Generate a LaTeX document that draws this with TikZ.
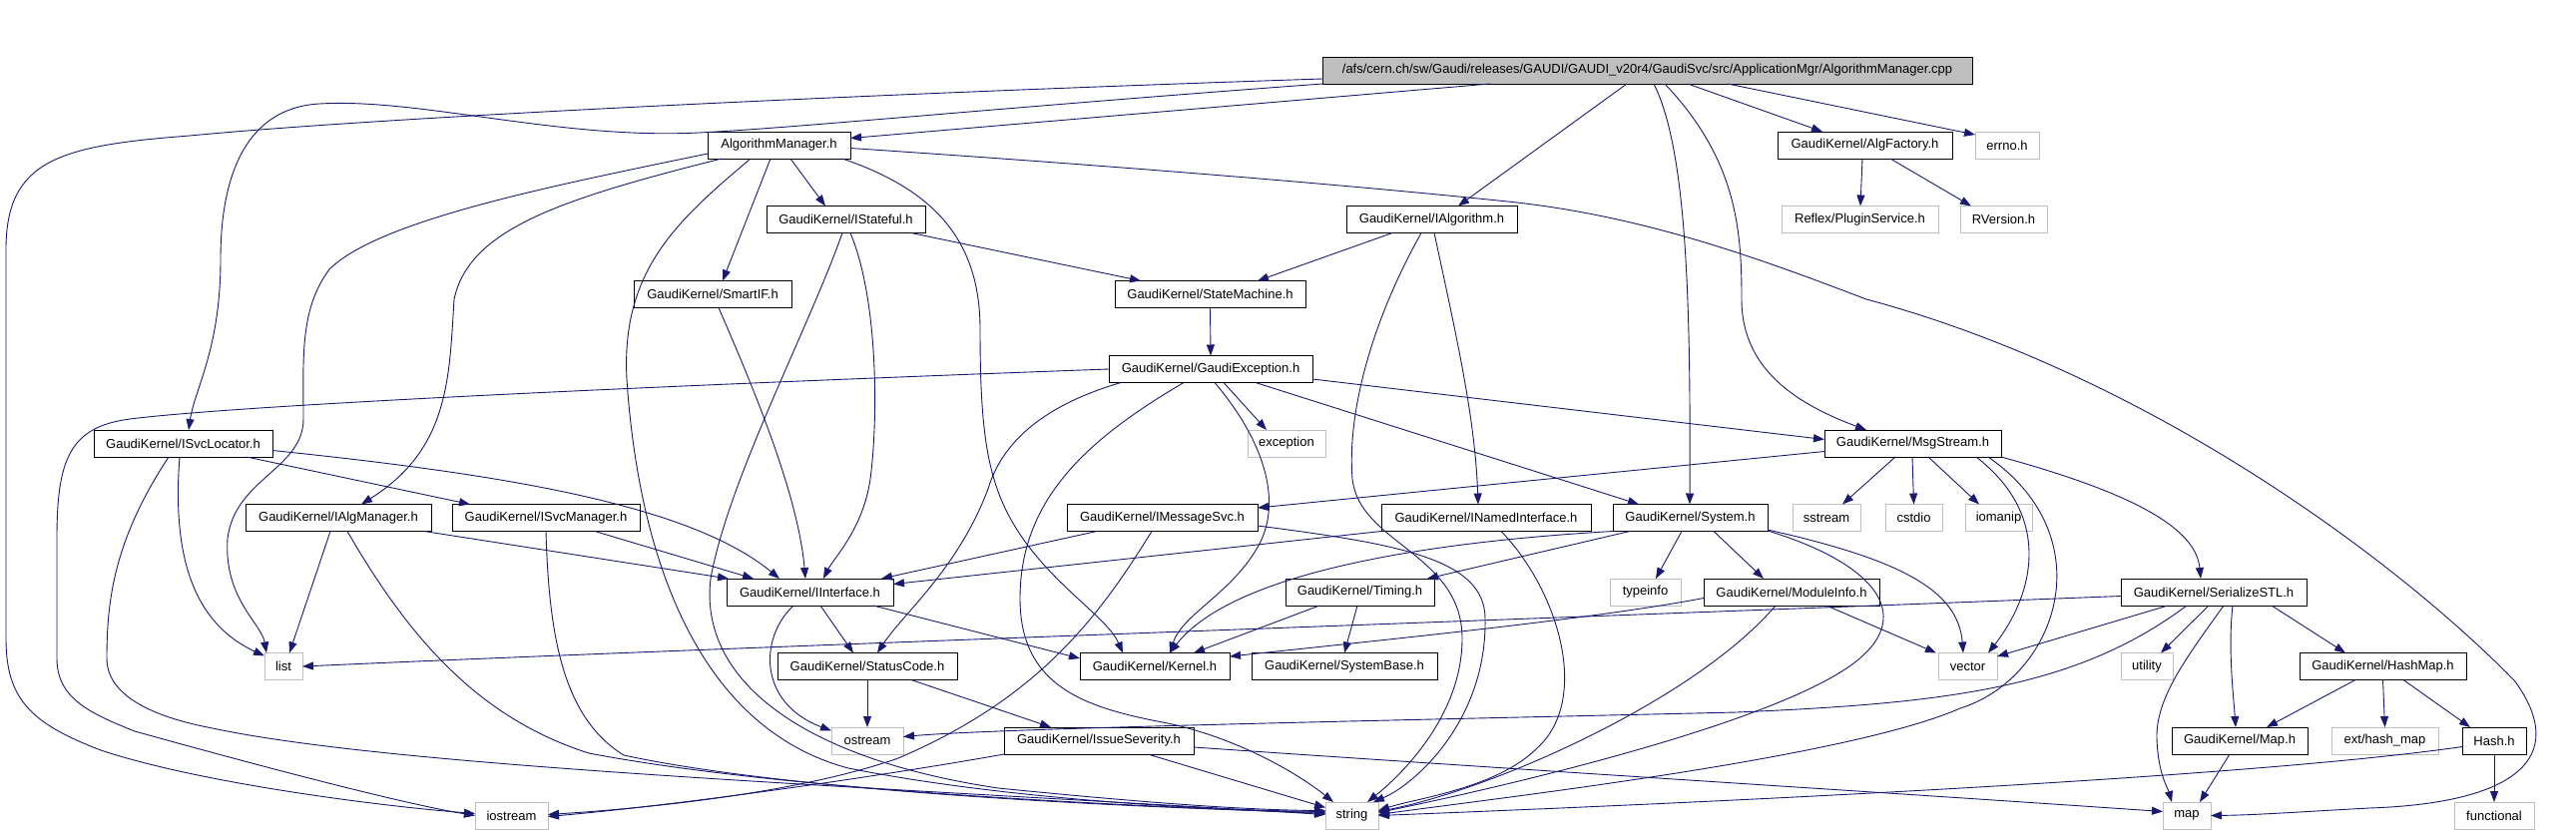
\documentclass[tikz,border=0pt]{standalone}
\usepackage{fontspec}
\setmainfont{Liberation Sans}
\usetikzlibrary{arrows.meta}
\definecolor{edgeblue}{HTML}{191970}
\definecolor{boxgray}{HTML}{BFBFBF}
\begin{document}
\begin{tikzpicture}[x=1pt,y=-1pt,
every node/.style={rectangle,draw,minimum height=27pt,inner sep=0pt,outer sep=0pt,line width=0.9pt,font=\fontsize{13}{15}\selectfont},
sys/.style={draw=boxgray},
mainfile/.style={fill=boxgray},
dep/.style={draw=edgeblue,line width=0.9pt,-{Triangle[length=11pt,width=8pt]}}]
\useasboundingbox (0,0) rectangle (2581,836);
\node[mainfile,minimum width=651pt] (cpp) at (1650.5,70.5) {/afs/cern.ch/sw/Gaudi/releases/GAUDI/GAUDI\_v20r4/GaudiSvc/src/ApplicationMgr/AlgorithmManager.cpp};
\node[minimum width=143pt] (AM) at (780.5,145.5) {AlgorithmManager.h};
\node[minimum width=175pt] (AF) at (1868.5,145.5) {GaudiKernel/AlgFactory.h};
\node[sys,minimum width=64pt] (ER) at (2011,145.5) {errno.h};
\node[minimum width=159pt] (IS) at (847.5,220) {GaudiKernel/IStateful.h};
\node[minimum width=171pt] (IA) at (1434.5,220) {GaudiKernel/IAlgorithm.h};
\node[sys,minimum width=157pt] (PS) at (1863.5,220) {Reflex/PluginService.h};
\node[sys,minimum width=87pt] (RV) at (2007.5,220) {RVersion.h};
\node[minimum width=158pt] (SI) at (714,295) {GaudiKernel/SmartIF.h};
\node[minimum width=191pt] (SM) at (1212.5,295) {GaudiKernel/StateMachine.h};
\node[minimum width=204pt] (GE) at (1213,370) {GaudiKernel/GaudiException.h};
\node[minimum width=179pt] (SL) at (183.5,444.5) {GaudiKernel/ISvcLocator.h};
\node[sys,minimum width=78pt] (EX) at (1289,444.5) {exception};
\node[minimum width=177pt] (MG) at (1916.5,444.5) {GaudiKernel/MsgStream.h};
\node[minimum width=186pt] (IM) at (339,519) {GaudiKernel/IAlgManager.h};
\node[minimum width=188pt] (SV) at (547,519) {GaudiKernel/ISvcManager.h};
\node[minimum width=191pt] (MS) at (1164.5,519) {GaudiKernel/IMessageSvc.h};
\node[minimum width=210pt] (NI) at (1489,519) {GaudiKernel/INamedInterface.h};
\node[minimum width=155pt] (SY) at (1693.5,519) {GaudiKernel/System.h};
\node[sys,minimum width=68pt] (SS) at (1830,519) {sstream};
\node[sys,minimum width=57pt] (CS) at (1917.5,519) {cstdio};
\node[sys,minimum width=67pt] (IO) at (2002.5,519) {iomanip};
\node[minimum width=167pt] (II) at (811.5,593.5) {GaudiKernel/IInterface.h};
\node[minimum width=149pt] (TI) at (1362.5,593.5) {GaudiKernel/Timing.h};
\node[sys,minimum width=71pt] (TY) at (1648.5,593.5) {typeinfo};
\node[minimum width=176pt] (MI) at (1795,593.5) {GaudiKernel/ModuleInfo.h};
\node[minimum width=186pt] (SE) at (2218,593.5) {GaudiKernel/SerializeSTL.h};
\node[sys,minimum width=38pt] (LI) at (284,668) {list};
\node[minimum width=180pt] (SC) at (869,668) {GaudiKernel/StatusCode.h};
\node[minimum width=150pt] (KE) at (1157,668) {GaudiKernel/Kernel.h};
\node[minimum width=186pt] (SB) at (1347,668) {GaudiKernel/SystemBase.h};
\node[sys,minimum width=59pt] (VE) at (1971.5,668) {vector};
\node[sys,minimum width=52pt] (UT) at (2151,668) {utility};
\node[minimum width=167pt] (HM) at (2387.5,668) {GaudiKernel/HashMap.h};
\node[sys,minimum width=72pt] (OS) at (869,742.5) {ostream};
\node[minimum width=190pt] (IV) at (1101,742.5) {GaudiKernel/IssueSeverity.h};
\node[minimum width=136pt] (MP) at (2244,742.5) {GaudiKernel/Map.h};
\node[sys,minimum width=107pt] (EH) at (2389.5,742.5) {ext/hash\_map};
\node[minimum width=64pt] (HA) at (2499,742.5) {Hash.h};
\node[sys,minimum width=73pt] (IOS) at (512.5,817.5) {iostream};
\node[sys,minimum width=53pt] (ST) at (1354.5,817.5) {string};
\node[sys,minimum width=48pt] (MA) at (2191,817.5) {map};
\node[sys,minimum width=80pt] (FU) at (2499,817.5) {functional};
\draw[dep] ([xshift=168pt]cpp.south west) -- ([yshift=7pt]AM.east);
\draw[dep] (cpp.south west) .. controls (1000,108) and (800,128) .. (700,133) .. controls (560,140) and (420,98) .. (320,104) .. controls (250,108) and (221,170) .. (221,260) .. controls (221,350) and (195,390) .. ([xshift=5.5pt]SL.north);
\draw[dep] ([yshift=-8.5pt]cpp.west) .. controls (900,93) and (400,116) .. (190,136) .. controls (60,146) and (6,160) .. (6,250) -- (6,640) .. controls (6,700) and (30,725) .. (101,752) .. controls (200,785) and (380,808) .. ([yshift=2pt]IOS.west);
\draw[dep] ([xshift=366pt]cpp.south west) -- ([xshift=45pt]AF.north west);
\draw[dep] ([xshift=406pt]cpp.south west) -- ([yshift=-3pt]ER.north west);
\draw[dep] ([xshift=305pt]cpp.south west) -- ([xshift=112pt]IA.north west);
\draw[dep] ([xshift=332pt]cpp.south west) .. controls (1690,150) and (1694,300) .. ([xshift=77pt]SY.north west);
\draw[dep] ([xshift=343pt]cpp.south west) .. controls (1740,160) and (1745,230) .. (1745,300) .. controls (1745,370) and (1800,405) .. ([xshift=42pt]MG.north west);
\draw[dep] ([yshift=-8.5pt]AM.west) .. controls (560,185) and (380,220) .. (330,270) .. controls (300,310) and (304,360) .. (304,420) .. controls (304,470) and (235,480) .. (228,540) .. controls (224,600) and (262,625) .. ([xshift=2pt]LI.north west);
\draw[dep] ([xshift=14pt]AM.south west) .. controls (560,200) and (470,230) .. (455,300) .. controls (450,380) and (450,450) .. ([xshift=116pt]IM.north west);
\draw[dep] ([xshift=43pt]AM.south west) .. controls (680,220) and (622,270) .. (628,380) .. controls (640,560) and (700,730) .. (850,770) .. controls (1000,800) and (1200,812) .. ([yshift=4pt]ST.west);
\draw[dep] ([xshift=63pt]AM.south west) -- ([xshift=89pt]SI.north west);
\draw[dep] ([xshift=83pt]AM.south west) -- ([xshift=59pt]IS.north west);
\draw[dep] ([xshift=135pt]AM.south west) .. controls (935,190) and (982,240) .. (982,330) .. controls (982,440) and (990,490) .. (1025,540) .. controls (1060,590) and (1110,620) .. ([xshift=43pt]KE.north west);
\draw[dep] ([yshift=-3pt]AM.east) .. controls (1100,165) and (1350,185) .. (1520,203) .. controls (1650,218) and (1760,258) .. (1870,300) .. controls (2150,375) and (2400,560) .. (2520,683) .. controls (2575,760) and (2520,805) .. (2374,810) .. controls (2300,814) and (2260,817) .. (MA.east);
\draw[dep] ([xshift=85pt]AF.south west) -- ([xshift=79pt]PS.north west);
\draw[dep] ([xshift=113pt]AF.south west) -- ([xshift=11pt]RV.north west);
\draw[dep] ([xshift=145pt]IS.south west) -- ([xshift=26pt]SM.north west);
\draw[dep] ([xshift=84pt]IS.south west) .. controls (880,300) and (880,420) .. (872,480) .. controls (865,530) and (835,560) .. ([xshift=97pt]II.north west);
\draw[dep] ([xshift=76pt]IS.south west) .. controls (810,330) and (730,480) .. (712,580) .. controls (700,680) and (800,760) .. (1000,790) .. controls (1150,805) and (1250,812) .. ([yshift=5pt]ST.west);
\draw[dep] ([xshift=85pt]SI.south west) .. controls (760,400) and (800,500) .. ([xshift=79pt]II.north west);
\draw[dep] ([xshift=46pt]IA.south west) -- ([xshift=143pt]SM.north west);
\draw[dep] ([xshift=75pt]IA.south west) .. controls (1370,330) and (1350,420) .. (1355,480) .. controls (1362,545) and (1465,555) .. (1465,640) .. controls (1465,720) and (1400,780) .. ([xshift=42pt]ST.north west);
\draw[dep] ([xshift=88pt]IA.south west) .. controls (1460,340) and (1478,420) .. ([xshift=97pt]NI.north west);
\draw[dep] (SM.south) -- (GE.north);
\draw[dep] (GE.west) .. controls (700,385) and (250,405) .. (130,420) .. controls (70,428) and (57,460) .. (57,540) -- (57,660) .. controls (57,700) and (90,715) .. (135,733) .. controls (250,765) and (400,805) .. (IOS.west);
\draw[dep] ([xshift=12pt]GE.south west) .. controls (1050,405) and (1005,440) .. (990,490) .. controls (960,570) and (905,615) .. ([xshift=100pt]SC.north west);
\draw[dep] ([xshift=75pt]GE.south west) .. controls (1090,440) and (1022,500) .. (1022,600) .. controls (1022,690) and (1090,710) .. (1170,725) .. controls (1240,740) and (1300,775) .. ([xshift=8pt]ST.north west);
\draw[dep] ([xshift=106pt]GE.south west) .. controls (1265,440) and (1285,500) .. (1262,545) .. controls (1235,595) and (1185,615) .. ([xshift=90pt]KE.north west);
\draw[dep] ([xshift=115pt]GE.south west) -- ([xshift=19pt]EX.north west);
\draw[dep] ([xshift=147pt]GE.south west) -- ([xshift=26pt]SY.north west);
\draw[dep] ([yshift=-10pt]GE.east) -- ([yshift=4pt]MG.west);
\draw[dep] ([xshift=153pt]SL.south west) -- ([xshift=18pt]SV.north west);
\draw[dep] ([yshift=-7pt]SL.east) .. controls (500,475) and (690,505) .. ([xshift=53pt]II.north west);
\draw[dep] ([xshift=86pt]SL.south west) .. controls (172,560) and (195,625) .. ([yshift=-3pt]LI.north west);
\draw[dep] ([xshift=75pt]SL.south west) .. controls (115,540) and (107,600) .. (107,660) .. controls (107,700) and (160,720) .. (213,730) .. controls (400,770) and (900,790) .. ([yshift=1pt]ST.west);
\draw[dep] ([xshift=85pt]IM.south west) -- ([xshift=25pt]LI.north west);
\draw[dep] ([xshift=102pt]IM.south west) .. controls (410,640) and (480,720) .. (590,755) .. controls (800,795) and (1150,808) .. ([yshift=2pt]ST.west);
\draw[dep] ([xshift=179pt]IM.south west) -- ([xshift=2pt]II.north west);
\draw[dep] ([xshift=143pt]SV.south west) -- ([xshift=27pt]II.north west);
\draw[dep] ([xshift=94pt]SV.south west) .. controls (550,640) and (565,720) .. (625,757) .. controls (800,795) and (1150,810) .. ([yshift=3pt]ST.west);
\draw[dep] ([xshift=30pt]MS.south west) -- ([xshift=-12pt]II.north east);
\draw[dep] ([xshift=85pt]MS.south west) .. controls (1100,620) and (1040,700) .. (900,760) .. controls (800,795) and (650,810) .. ([yshift=1pt]IOS.east);
\draw[dep] ([yshift=-8pt]MS.east) .. controls (1400,545) and (1488,560) .. (1488,620) .. controls (1490,720) and (1420,785) .. ([xshift=48pt]ST.north west);
\draw[dep] (NI.south west) -- ([yshift=8pt]II.east);
\draw[dep] ([xshift=120pt]NI.south west) .. controls (1560,590) and (1595,700) .. (1540,750) .. controls (1500,790) and (1420,800) .. ([yshift=5pt]ST.east);
\draw[dep] (SY.south west) .. controls (1400,545) and (1230,580) .. ([xshift=90pt]KE.north west);
\draw[dep] ([xshift=17pt]SY.south west) -- ([xshift=142pt]TI.north west);
\draw[dep] ([xshift=69pt]SY.south west) -- ([xshift=46pt]TY.north west);
\draw[dep] ([xshift=101pt]SY.south west) -- ([xshift=60pt]MI.north west);
\draw[dep] ([yshift=-12pt]SY.east) .. controls (1900,560) and (1962,590) .. ([xshift=25pt]VE.north west);
\draw[dep] ([yshift=-13pt]SY.east) .. controls (1880,565) and (1925,620) .. (1850,670) .. controls (1760,730) and (1500,790) .. ([yshift=3pt]ST.east);
\draw[dep] ([xshift=34pt]TI.south west) -- ([xshift=114pt]KE.north west);
\draw[dep] ([xshift=72pt]TI.south west) -- ([xshift=93pt]SB.north west);
\draw[dep] ([yshift=-6pt]MI.west) .. controls (1600,620) and (1400,640) .. ([yshift=10pt]KE.east);
\draw[dep] ([xshift=123pt]MI.south west) -- ([xshift=-2pt]VE.north west);
\draw[dep] ([xshift=72pt]MI.south west) .. controls (1700,700) and (1500,790) .. ([yshift=4pt]ST.east);
\draw[dep] ([yshift=-4pt]SE.west) .. controls (1500,622) and (700,650) .. (LI.east);
\draw[dep] ([xshift=47pt]SE.south west) -- ([yshift=10pt]VE.east);
\draw[dep] ([xshift=66pt]SE.south west) .. controls (2080,690) and (1950,705) .. (1740,714) .. controls (1400,722) and (1000,730) .. ([yshift=4pt]OS.east);
\draw[dep] ([xshift=88pt]SE.south west) -- ([xshift=40pt]UT.north west);
\draw[dep] ([xshift=103pt]SE.south west) .. controls (2190,660) and (2160,700) .. (2161,740) .. controls (2162,775) and (2172,790) .. ([xshift=9pt]MA.north west);
\draw[dep] ([xshift=112pt]SE.south west) .. controls (2232,650) and (2238,700) .. ([xshift=64pt]MP.north west);
\draw[dep] ([xshift=151pt]SE.south west) -- ([xshift=46pt]HM.north west);
\draw[dep] ([xshift=56pt]HM.south west) -- ([xshift=95pt]MP.north west);
\draw[dep] (HM.south) -- (EH.north);
\draw[dep] ([xshift=104pt]HM.south west) -- ([xshift=8pt]HA.north west);
\draw[dep] ([xshift=58pt]MP.south west) -- ([xshift=37pt]MA.north west);
\draw[dep] (HA.south) -- (FU.north);
\draw[dep] ([yshift=-6pt]HA.west) .. controls (2250,780) and (1700,805) .. (ST.east);
\draw[dep] ([xshift=71pt]MG.south west) -- ([xshift=50pt]SS.north west);
\draw[dep] ([xshift=88pt]MG.south west) -- (CS.north);
\draw[dep] ([xshift=104pt]MG.south west) -- ([xshift=14pt]IO.north west);
\draw[dep] ([xshift=152pt]MG.south west) .. controls (2060,520) and (2035,600) .. ([xshift=50pt]VE.north west);
\draw[dep] ([xshift=164pt]MG.south west) .. controls (2110,540) and (2060,680) .. (1964,710) .. controls (1850,760) and (1500,800) .. ([yshift=1pt]ST.east);
\draw[dep] (MG.south east) .. controls (2140,495) and (2200,530) .. ([xshift=80pt]SE.north west);
\draw[dep] ([yshift=-8pt]MG.west) -- ([yshift=10pt]MS.east);
\draw[dep] ([xshift=67pt]II.south west) .. controls (760,640) and (760,705) .. ([yshift=10pt]OS.west);
\draw[dep] ([xshift=94pt]II.south west) -- ([xshift=76pt]SC.north west);
\draw[dep] ([xshift=147pt]II.south west) -- ([yshift=8pt]KE.west);
\draw[dep] (SC.south) -- (OS.north);
\draw[dep] ([xshift=134pt]SC.south west) -- ([xshift=47pt]IV.north west);
\draw[dep] (IV.south west) .. controls (900,775) and (700,805) .. ([yshift=-1pt]IOS.east);
\draw[dep] ([xshift=144pt]IV.south west) -- ([yshift=8pt]ST.west);
\draw[dep] ([yshift=-6.5pt]IV.east) .. controls (1500,770) and (1900,795) .. ([yshift=4pt]MA.west);
\end{tikzpicture}
\end{document}
